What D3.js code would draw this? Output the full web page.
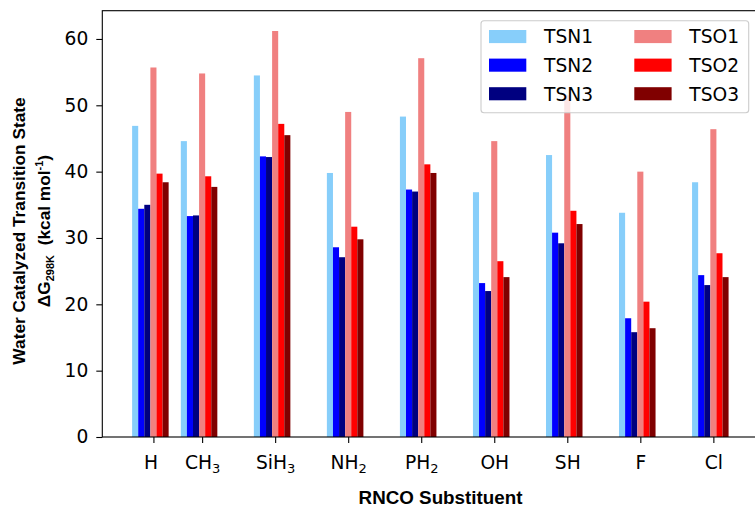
<!DOCTYPE html>
<html>
<head>
<meta charset="utf-8">
<script src="https://cdn.jsdelivr.net/npm/d3@7"></script>
<style>
  body { margin: 0; background: #fff; }
  svg { display: block; }
  .xlab { white-space: pre; }
</style>
</head>
<body>
<svg id="chart" width="755" height="508"></svg>
<script>
// Substituent labels (base text + subscript) and their numeric x positions
const labelBase = ["H ", "CH", "SiH", "NH", "PH", "OH", "SH", "F", "Cl"];
const labelSub  = ["",  "3",  "3",   "2",  "2",  "",   "",   "",  ""];
const xValues   = [1, 2, 3.5, 5, 6.5, 8, 9.5, 11, 12.5];

// Water-catalyzed transition state free energies, kcal/mol
const seriesNames = ["TSN1", "TSN2", "TSN3", "TSO1", "TSO2", "TSO3"];
const TSN1 = [46.9, 44.6, 54.5, 39.8, 48.3, 36.9, 42.5, 33.8, 38.4];
const TSN2 = [34.4, 33.3, 42.3, 28.6, 37.3, 23.2, 30.8, 17.9, 24.4];
const TSN3 = [35.0, 33.4, 42.2, 27.1, 37.0, 22.0, 29.2, 15.8, 22.9];
const TSO1 = [55.7, 54.8, 61.2, 49.0, 57.1, 44.6, 51.5, 40.0, 46.4];
const TSO2 = [39.7, 39.3, 47.2, 31.7, 41.1, 26.5, 34.1, 20.4, 27.7];
const TSO3 = [38.4, 37.7, 45.5, 29.8, 39.8, 24.1, 32.1, 16.4, 24.1];
const yTicks = [0, 10, 20, 30, 40, 50, 60];

const seriesValues = [TSN1, TSN2, TSN3, TSO1, TSO2, TSO3];
const colors = ["#87cefa", "#0000ff", "#000080", "#f08080", "#ff0000", "#800000"];

const svg = d3.select("#chart");
const plot = { left: 102.3, right: 758.4, top: 10.7, bottom: 437 };

// bar geometry in x-data units; bar i is centred at x + (i - 3) * barW
const barW = 0.125;
const xMinData = d3.min(xValues) - 3.5 * barW;
const xMaxData = d3.max(xValues) + 2.5 * barW;
const xPad = (xMaxData - xMinData) * 0.05;
const x = d3.scaleLinear()
  .domain([xMinData - xPad, xMaxData + xPad])
  .range([plot.left, plot.right]);

const yMax = d3.max(seriesValues.flat()) * 1.05;
const y = d3.scaleLinear().domain([0, yMax]).range([plot.bottom, plot.top]);

const tickFont = "'DejaVu Sans', sans-serif";
const fs = 18.67;
const tickLen = 6;

// bars
const barsG = svg.append("g");
seriesValues.forEach((vals, si) => {
  barsG.selectAll(null)
    .data(vals.map((v, i) => ({ v, xv: xValues[i] })))
    .join("rect")
    .attr("x", d => x(d.xv + (si - 3) * barW - barW / 2))
    .attr("width", d => x(d.xv + (si - 3) * barW + barW / 2) - x(d.xv + (si - 3) * barW - barW / 2))
    .attr("y", d => y(d.v))
    .attr("height", d => y(0) - y(d.v))
    .attr("fill", colors[si]);
});

// frame (right side sits just past the canvas edge)
svg.append("rect")
  .attr("x", plot.left).attr("y", plot.top)
  .attr("width", plot.right - plot.left).attr("height", plot.bottom - plot.top)
  .attr("fill", "none").attr("stroke", "#000").attr("stroke-width", 1.1);

// y axis
const yAxis = svg.append("g")
  .attr("transform", `translate(${plot.left},0)`)
  .call(d3.axisLeft(y).tickValues(yTicks).tickSize(tickLen).tickPadding(8).tickSizeOuter(0));
yAxis.select(".domain").remove();
yAxis.selectAll(".tick line").attr("stroke-width", 1.1);
yAxis.selectAll(".tick text")
  .attr("font-family", tickFont).attr("font-size", fs).attr("fill", "#000");

// x axis with subscripted chemical labels
const xAxis = svg.append("g")
  .attr("transform", `translate(0,${plot.bottom})`)
  .call(d3.axisBottom(x).tickValues(xValues).tickSize(tickLen).tickSizeOuter(0).tickFormat(""));
xAxis.select(".domain").remove();
xAxis.selectAll(".tick line").attr("stroke-width", 1.1);
xAxis.selectAll(".tick").each(function (d, i) {
  const t = d3.select(this).append("text")
    .attr("class", "xlab")
    .attr("y", 31.5)
    .attr("text-anchor", "middle")
    .attr("font-family", tickFont)
    .attr("font-size", fs)
    .attr("fill", "#000");
  t.append("tspan").text(labelBase[i]);
  if (labelSub[i]) {
    t.append("tspan").attr("font-size", fs * 0.7).attr("dy", 4).text(labelSub[i]);
  }
});

// axis titles
const titleFont = "'Liberation Sans', Arial, sans-serif";
svg.append("text")
  .attr("x", 440.5).attr("y", 503.5)
  .attr("text-anchor", "middle")
  .attr("font-family", titleFont).attr("font-weight", "bold").attr("font-size", 18.8)
  .text("RNCO Substituent");

const yl = svg.append("g")
  .attr("transform", `translate(0,231) rotate(-90)`);
yl.append("text")
  .attr("x", 0).attr("y", 24.5)
  .attr("text-anchor", "middle")
  .attr("font-family", titleFont).attr("font-weight", "bold").attr("font-size", 17.3)
  .text("Water Catalyzed Transition State");
const yl2 = yl.append("text")
  .attr("class", "xlab")
  .attr("x", 0).attr("y", 49.5)
  .attr("text-anchor", "middle")
  .attr("font-family", titleFont).attr("font-weight", "bold").attr("font-size", 17.3);
yl2.append("tspan").text("ΔG");
yl2.append("tspan").attr("font-size", 11).attr("dy", 4).text("298K");
yl2.append("tspan").attr("dy", -4).text("  (kcal mol");
yl2.append("tspan").attr("font-size", 11).attr("dy", -7).text("-1");
yl2.append("tspan").attr("dy", 7).text(")");

// legend
const lg = svg.append("g");
lg.append("rect")
  .attr("x", 481).attr("y", 20.7).attr("width", 267.7).attr("height", 92)
  .attr("rx", 3).attr("fill", "#fff").attr("fill-opacity", 0.8)
  .attr("stroke", "#cccccc").attr("stroke-width", 1.1);
seriesNames.forEach((name, i) => {
  const col = Math.floor(i / 3), row = i % 3;
  const px = 489 + col * 145.3;
  const cy = 36.5 + row * 28.6;
  lg.append("rect")
    .attr("x", px).attr("y", cy - 6.5).attr("width", 37.3).attr("height", 13.1)
    .attr("fill", colors[i]);
  lg.append("text")
    .attr("x", px + 55).attr("y", cy + 6.8)
    .attr("font-family", tickFont).attr("font-size", fs).attr("fill", "#000")
    .text(name);
});
</script>
</body>
</html>
